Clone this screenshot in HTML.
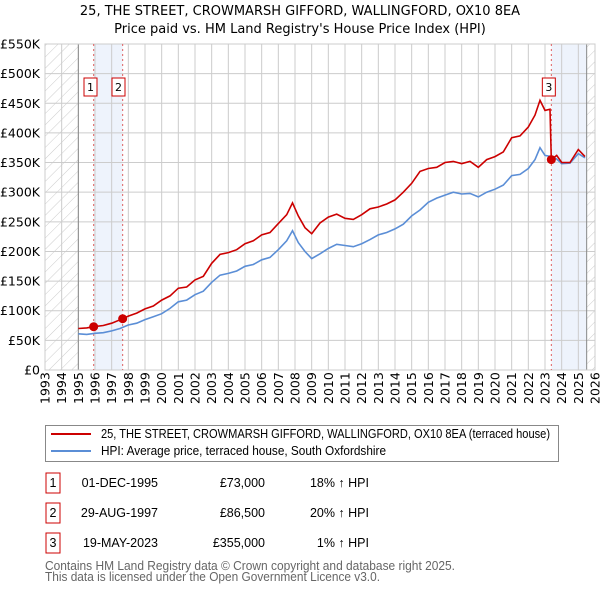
<!DOCTYPE html>
<html><head><meta charset="utf-8"><style>
body{margin:0;background:#fff;font-family:"Liberation Sans","DejaVu Sans",sans-serif}
svg text{font-family:"DejaVu Sans","Liberation Sans",sans-serif}
svg text.ls{font-family:"Liberation Sans","DejaVu Sans",sans-serif}
</style></head><body>
<svg id="c" width="600" height="590" xmlns="http://www.w3.org/2000/svg">
<defs><pattern id="h" width="8" height="8" patternUnits="userSpaceOnUse" patternTransform="rotate(45)"><line x1="0" y1="0" x2="0" y2="8" stroke="#ccc" stroke-width="1"/></pattern></defs>
<text x="300" y="15" text-anchor="middle" font-size="13">25, THE STREET, CROWMARSH GIFFORD, WALLINGFORD, OX10 8EA</text>
<text x="300" y="33" text-anchor="middle" font-size="13">Price paid vs. HM Land Registry's House Price Index (HPI)</text>
<g id="plot"></g>
<rect x="45.5" y="425.5" width="513" height="36" fill="none" stroke="#888"/>
<line x1="51" y1="434" x2="91" y2="434" stroke="#cc0000" stroke-width="2"/>
<text class="ls" x="101" y="438" font-size="12.5" textLength="449" lengthAdjust="spacingAndGlyphs">25, THE STREET, CROWMARSH GIFFORD, WALLINGFORD, OX10 8EA (terraced house)</text>
<line x1="51" y1="451" x2="91" y2="451" stroke="#5b8ed6" stroke-width="2"/>
<text class="ls" x="101" y="455" font-size="12.5" textLength="285" lengthAdjust="spacingAndGlyphs">HPI: Average price, terraced house, South Oxfordshire</text>
<g font-size="12.5" id="tbl"></g>
<text class="ls" x="45" y="570" font-size="12.5" fill="#666" textLength="410" lengthAdjust="spacingAndGlyphs">Contains HM Land Registry data © Crown copyright and database right 2025.</text>
<text class="ls" x="45" y="581" font-size="12.5" fill="#666" textLength="335" lengthAdjust="spacingAndGlyphs">This data is licensed under the Open Government Licence v3.0.</text>
</svg>
<script>
const hpiYears=[1995,1995.5,1996,1996.5,1997,1997.5,1998,1998.5,1999,1999.5,2000,2000.5,2001,2001.5,2002,2002.5,2003,2003.5,2004,2004.5,2005,2005.5,2006,2006.5,2007,2007.5,2007.85,2008.2,2008.6,2009,2009.5,2010,2010.5,2011,2011.5,2012,2012.5,2013,2013.5,2014,2014.5,2015,2015.5,2016,2016.5,2017,2017.5,2018,2018.5,2019,2019.5,2020,2020.5,2021,2021.5,2022,2022.4,2022.7,2023,2023.4,2023.7,2024,2024.5,2025,2025.4];
const hpiValues=[61,60,62,63,66,70,76,79,85,90,95,104,115,118,127,133,148,160,163,167,175,178,186,190,203,218,235,215,200,188,196,205,212,210,208,213,220,228,232,238,246,260,270,283,290,295,300,297,298,292,300,305,312,328,330,340,355,375,362,360,356,348,349,365,358];
const ppYears=[1995,1995.5,1995.92,1996.5,1997,1997.66,1998,1998.5,1999,1999.5,2000,2000.5,2001,2001.5,2002,2002.5,2003,2003.5,2004,2004.5,2005,2005.5,2006,2006.5,2007,2007.5,2007.85,2008.2,2008.6,2009,2009.5,2010,2010.5,2011,2011.5,2012,2012.5,2013,2013.5,2014,2014.5,2015,2015.5,2016,2016.5,2017,2017.5,2018,2018.5,2019,2019.5,2020,2020.5,2021,2021.5,2022,2022.4,2022.7,2023,2023.3,2023.38,2023.7,2024,2024.5,2025,2025.4];
const ppValues=[70,71,73,75,79,86.5,91,96,103,108,118,125,138,140,152,158,180,195,198,203,213,218,228,232,247,262,282,260,240,230,248,258,263,256,254,262,272,275,280,287,300,315,335,340,342,350,352,348,352,342,355,360,368,392,395,410,430,455,438,440,355,362,350,350,372,360];
const yTicks=[0,50,100,150,200,250,300,350,400,450,500,550];
const xTicks=[1993,1994,1995,1996,1997,1998,1999,2000,2001,2002,2003,2004,2005,2006,2007,2008,2009,2010,2011,2012,2013,2014,2015,2016,2017,2018,2019,2020,2021,2022,2023,2024,2025,2026];
const saleYears=[1995.92,1997.66,2023.38];
const saleValues=[73,86.5,355];
const saleLabels=["1","2","3"];
const saleDates=["01-DEC-1995","29-AUG-1997","19-MAY-2023"];
const salePrices=["£73,000","£86,500","£355,000"];
const saleHpi=["18% \u2191 HPI","20% \u2191 HPI","1% \u2191 HPI"];

const NS="http://www.w3.org/2000/svg";
const X0=45,X1=595,Y0=370,Y1=44;
const x=v=>X0+(v-1993)/33*(X1-X0);
const y=v=>Y0-v/550*(Y0-Y1);
const g=document.getElementById('plot');
function mk(t,a,p){const e=document.createElementNS(NS,t);for(const k in a)e.setAttribute(k,a[k]);(p||g).appendChild(e);return e;}
let e;
e=mk('rect',{x:x(1993),y:Y1,width:x(1995)-x(1993),height:Y0-Y1,fill:'url(#h)'});


e=mk('rect',{x:x(2025.5),y:Y1,width:X1-x(2025.5),height:Y0-Y1,fill:'url(#h)'});


e=mk('rect',{x:x(saleYears[0]),y:Y1,width:x(saleYears[1])-x(saleYears[0]),height:Y0-Y1,fill:'#eef3fc'});


e=mk('rect',{x:x(saleYears[2]),y:Y1,width:x(2025.5)-x(saleYears[2]),height:Y0-Y1,fill:'#eef3fc'});


xTicks.forEach(t=>{
 e=mk('line',{x1:x(t),x2:x(t),y1:Y1,y2:Y0,stroke:'#ccc'});
 
 
 e=mk('text',{x:0,y:0,transform:`translate(${x(t)+4.5},${Y0+34}) rotate(-90)`,'font-size':'12.5'});
 e.textContent=t;
 
 
});
yTicks.forEach(t=>{
 e=mk('line',{x1:X0,x2:X1,y1:y(t),y2:y(t),stroke:'#ccc'});
 
 
 e=mk('text',{x:40,y:y(t)+4.5,'text-anchor':'end','font-size':'12.5'});
 e.textContent=t===0?'£0':'£'+t+'K';
 
 
});
e=mk('line',{x1:x(1995),x2:x(1995),y1:Y1,y2:Y0,stroke:'#888'});


e=mk('line',{x1:x(2025.5),x2:x(2025.5),y1:Y1,y2:Y0,stroke:'#888'});


e=mk('rect',{x:X0,y:Y1,width:X1-X0,height:Y0-Y1,fill:'none',stroke:'#ccc'});


saleYears.forEach((s,i)=>{
 e=mk('line',{x1:x(s),x2:x(s),y1:Y1,y2:Y0,stroke:'#e06060','stroke-dasharray':'2,3'});
 
 
});
e=mk('path',{d:hpiYears.map((v,i)=>(i?'L':'M')+x(v).toFixed(1)+','+y(hpiValues[i]).toFixed(1)).join(''),fill:'none',stroke:'#5b8ed6','stroke-width':'1.6'});


e=mk('path',{d:ppYears.map((v,i)=>(i?'L':'M')+x(v).toFixed(1)+','+y(ppValues[i]).toFixed(1)).join(''),fill:'none',stroke:'#cc0000','stroke-width':'1.6'});


saleYears.forEach((s,i)=>{
 e=mk('circle',{cx:x(s),cy:y(saleValues[i]),r:4.5,fill:'#cc0000'});
 
 
 const lx=[84,112,x(s)-9][i];
 e=mk('rect',{x:lx,y:78,width:13,height:18,fill:'#fff',stroke:'#cc0000'});
 
 
 e=mk('text',{x:lx+6.5,y:91,'text-anchor':'middle','font-size':'11'});
 e.textContent=saleLabels[i];
 
 
});
const tb=document.getElementById('tbl');
saleLabels.forEach((l,i)=>{
 const cy=483+i*30;
 e=mk('rect',{x:46,y:cy-10,width:14,height:20,fill:'#fff',stroke:'#cc0000'},tb);
 
 
 e=mk('text',{x:53,y:cy+4,'text-anchor':'middle',class:'ls'},tb);e.textContent=l;
 
 
 e=mk('text',{x:158,y:cy+4,'text-anchor':'end',class:'ls'},tb);e.textContent=saleDates[i];
 
 
 e=mk('text',{x:265,y:cy+4,'text-anchor':'end',class:'ls'},tb);e.textContent=salePrices[i];
 
 
 e=mk('text',{x:369,y:cy+4,'text-anchor':'end',class:'ls'},tb);e.textContent=saleHpi[i];
 
 
});
</script>
</body></html>
